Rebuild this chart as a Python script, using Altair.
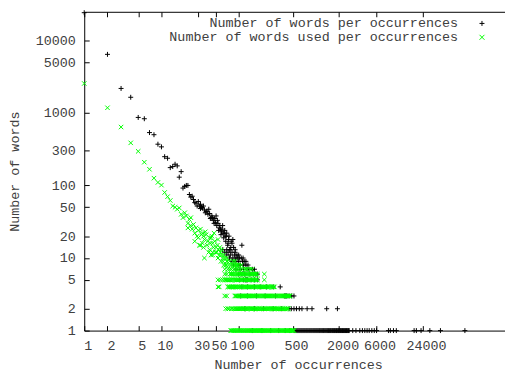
import altair as alt
import pandas as pd

S_BLACK = "Number of words per occurrences"
S_GREEN = "Number of words used per occurrences"

# ---- black "+" series: scattered part (occurrences, words)
black_x = [1, 2, 3, 4, 5, 6, 7, 8, 9, 10, 11, 12, 13, 14, 15, 16, 17, 18, 19, 20,
           21, 22, 23, 24, 25, 26, 27, 28, 29, 31, 32, 33, 34, 36, 38, 39, 40, 42, 44, 45,
           46, 47, 49, 50, 52, 53, 55, 56, 58, 59, 61, 63, 65, 67, 69, 72, 74, 77, 80, 84,
           110, 30, 32, 35, 37, 41, 43, 48, 51, 54, 57, 60, 62, 64, 66, 68, 70, 73, 75, 79,
           82, 86]
black_y = [24000, 6400, 2170, 1640, 865, 830, 535, 500, 370, 340, 249, 237, 176, 182, 196, 186, 130, 155, 92, 97,
           100, 100, 75, 69, 71, 64, 58, 57, 52, 52, 48, 50, 49, 46, 44, 44, 40, 41, 36, 38,
           36, 33, 35, 31, 28, 33, 24, 26, 25, 21, 25, 22, 22, 20, 20, 15, 18, 13, 17, 18,
           15, 60, 55, 52, 42, 47, 35, 30, 38, 30, 28, 23, 28, 19, 24, 17, 22, 16, 20, 14,
           16, 14]

# ---- black series: integer rows (words count -> list of occurrence values)
black_levels = [13, 12, 11, 10, 9, 8, 7, 6, 5, 4, 3, 2, 1]
black_level_x = [
    [62, 70, 77, 90],
    [66, 73, 82, 90],
    [70, 78, 88, 95, 100],
    [76, 84, 92, 96, 102, 108, 114],
    [82, 90, 100, 112, 118, 124],
    [86, 98, 105, 116, 124, 132],
    [92, 104, 115, 128, 136, 150, 160],
    [100, 110, 120, 140, 155, 167, 175],
    [103, 115, 123, 126, 130, 145, 160, 175],
    [110, 130, 160, 190, 230, 280, 345],
    [106, 130, 170, 220, 300, 390, 400, 410, 420, 450, 485, 520],
    [120, 160, 210, 280, 360, 450, 480, 520, 560, 610, 660, 770, 890, 1380, 1900],
    [150, 200, 260, 330, 400, 460, 520, 536, 552, 568, 585, 603, 621, 640, 659, 679,
     699, 720, 742, 764, 787, 811, 835, 860, 886, 913, 940, 968, 997, 1027, 1058, 1090,
     1120, 1155, 1190, 1225, 1260, 1300, 1340, 1380, 1420, 1460, 1505, 1550, 1600, 1645,
     1695, 1745, 1800, 1850, 1910, 1965, 2025, 2085, 2150, 2210, 2280, 2350, 2420, 2490,
     2560, 2640, 2700, 3000, 3300, 3700, 4000, 4300, 4600, 4900, 5300, 5700, 6100, 8700,
     9200, 10100, 11000, 18700, 20000, 23000, 29900, 41000, 85000],
]

# ---- green "x" series: scattered part
green_x = [1, 2, 3, 4, 5, 6, 7, 8, 9, 10, 11, 12, 13, 14, 15, 16, 17, 18, 19, 20,
           21, 22, 23, 24, 25, 27, 28, 30, 31, 32, 33, 34, 35, 36, 38, 40, 42, 44, 46, 48,
           51, 54, 22, 24, 26, 27, 29, 30, 32, 34, 35, 37, 39, 43, 45, 47, 49, 53, 57]
green_y = [2540, 1175, 638, 386, 295, 209, 167, 126, 110, 101, 80, 70, 62, 52, 50, 47, 49, 40, 36, 42,
           38, 26, 34, 36, 25, 17, 26, 24, 15, 15, 21, 22, 20, 18, 21, 17, 19, 19, 16, 22,
           14, 18, 30, 28, 29, 22, 20, 19, 25, 16, 14, 23, 15, 16, 20, 14, 17, 15, 14]

green_levels = [13, 12, 11, 10, 9, 8, 7, 6, 5, 4, 3, 2, 1]
green_level_x = [
    [42, 55, 60],
    [41, 46, 50, 52, 58],
    [44, 46, 56, 60, 64],
    [36, 54, 62, 66, 70],
    [59, 63, 70, 71, 76, 84, 90],
    [64, 68, 69, 74, 79, 85, 90, 95, 100, 108],
    [66, 72, 76, 80, 86, 90, 95, 100, 105, 112, 120, 125, 130, 140, 150],
    [66, 70, 77, 80, 82, 85, 88, 91, 94, 97, 100, 104, 107, 111, 114, 118, 122, 126,
     130, 134, 139, 143, 148, 153, 158, 163, 168, 175, 215],
    [54, 58, 62, 66, 68, 70, 72, 75, 77, 80, 83, 86, 89, 92, 95, 98, 101, 105, 108, 112,
     116, 120, 124, 128, 132, 137, 141, 146, 151, 156, 161, 166, 171, 175, 215],
    [54, 56, 72, 74, 76, 78, 80, 83, 85, 88, 90, 93, 96, 99, 102, 105, 109, 112, 116, 120,
     124, 128, 132, 136, 141, 145, 150, 155, 160, 165, 171, 176, 182, 188, 194, 200, 207,
     213, 220, 227, 235, 242, 250, 258, 267, 276, 285, 290],
    [66, 70, 89, 92, 94, 97, 100, 103, 106, 110, 113, 117, 120, 124, 128, 132, 136, 141,
     145, 150, 154, 159, 164, 170, 175, 181, 186, 192, 198, 205, 211, 218, 225, 232, 240,
     247, 255, 264, 272, 281, 290, 299, 309, 319, 329, 340, 350, 362, 373, 385, 397, 410,
     423, 436, 450, 465],
    [68, 72, 75, 80, 84, 88, 91, 94, 96, 99, 102, 105, 108, 112, 115, 119, 122, 126, 130,
     134, 138, 143, 147, 152, 156, 161, 166, 172, 177, 183, 188, 194, 200, 207, 213, 220,
     227, 234, 242, 250, 258, 266, 275, 283, 292, 302, 311, 321, 331, 342, 352, 364, 375,
     387, 399, 412, 425, 440],
    [79, 81, 84, 86, 89, 92, 95, 98, 101, 104, 107, 110, 114, 117, 121, 125, 129, 133,
     137, 141, 146, 150, 155, 160, 165, 170, 175, 181, 186, 192, 198, 204, 211, 217, 224,
     231, 238, 245, 253, 261, 269, 277, 286, 295, 304, 313, 323, 333, 344, 355, 366, 377,
     389, 401, 414, 427, 440, 454, 468, 482, 497, 512, 520],
]

x_ticks = [1, 2, 5, 10, 30, 50, 100, 500, 2000, 6000, 24000]
y_ticks = [1, 2, 5, 10, 20, 50, 100, 300, 1000, 5000, 10000]


def build(xs, ys, levels, level_x, series):
    assert len(xs) == len(ys)
    recs = [{"occ": a, "words": b, "series": series} for a, b in zip(xs, ys)]
    for lev, xl in zip(levels, level_x):
        recs += [{"occ": a, "words": lev, "series": series} for a in xl]
    return pd.DataFrame(recs)


df_black = build(black_x, black_y, black_levels, black_level_x, S_BLACK)
df_green = build(green_x, green_y, green_levels, green_level_x, S_GREEN)

W, H = 425, 322
FONT = "Liberation Mono"
TXT = "#404040"
FS = 13.5

xscale = alt.Scale(type="log", domain=[1, 281000], nice=False)
yscale = alt.Scale(type="log", domain=[1, 24700], nice=False)

PLUS = "M-1,0L1,0M0,-1L0,1"
CROSS = "M-1,-1L1,1M-1,1L1,-1"
color_scale = alt.Scale(domain=[S_BLACK, S_GREEN], range=["#000000", "#00ff00"])
shape_scale = alt.Scale(domain=[S_BLACK, S_GREEN], range=[PLUS, CROSS])

legend = alt.Legend(title=None, orient="none", legendX=395, legendY=5,
                    labelAlign="right", labelOffset={"expr": "-31"}, labelLimit=0,
                    labelFont=FONT, labelFontSize=FS, labelColor=TXT,
                    symbolStrokeWidth=1, symbolSize=25, rowPadding={"expr": "-2"}, padding=0)

black = alt.Chart(df_black).mark_point(filled=False, strokeWidth=1, size=25, opacity=1).encode(
    x=alt.X("occ:Q", scale=xscale,
            axis=alt.Axis(orient="bottom", values=x_ticks, format="d", title="Number of occurrences",
                          ticks=False, tickSize=0, labelFlush=False, labelOverlap=False,
                          labelPadding=8, titlePadding=6, titleX=216, labelOffset=3.5, domain=True)),
    y=alt.Y("words:Q", scale=yscale,
            axis=alt.Axis(orient="left", values=y_ticks, format="d", title="Number of words",
                          ticks=False, tickSize=0, labelFlush=False, labelOverlap=False,
                          labelPadding=9, titlePadding=14, domain=True)),
    color=alt.Color("series:N", scale=color_scale, legend=legend),
    shape=alt.Shape("series:N", scale=shape_scale, legend=legend),
)

green = alt.Chart(df_green).mark_point(filled=False, strokeWidth=1, size=20, opacity=1).encode(
    x=alt.X("occ:Q", scale=xscale,
            axis=alt.Axis(orient="top", offset=-H, values=x_ticks, labels=False, title=None,
                          tickSize=5, domain=False)),
    y=alt.Y("words:Q", scale=yscale,
            axis=alt.Axis(orient="right", offset=-W, values=y_ticks, labels=False, title=None,
                          tickSize=5, domain=False)),
    color=alt.Color("series:N", scale=color_scale, legend=legend),
    shape=alt.Shape("series:N", scale=shape_scale, legend=legend),
)

frame = alt.Chart(df_black).mark_point(opacity=0, size=1).encode(
    x=alt.X("occ:Q", scale=xscale,
            axis=alt.Axis(orient="bottom", offset=-H, values=x_ticks, labels=False, title=None,
                          tickSize=5, domain=True)),
    y=alt.Y("words:Q", scale=yscale, axis=None),
)

chart = alt.layer(black, green, frame).resolve_axis(x="independent", y="independent").properties(
    width=W, height=H,
    autosize=alt.AutoSizeParams(type="none"),
    padding={"left": 77, "top": 2, "right": 0, "bottom": 40},
).configure_axis(
    labelFont=FONT, labelFontSize=FS, labelColor=TXT,
    titleFont=FONT, titleFontSize=FS, titleFontWeight="normal", titleColor=TXT,
    domainColor="#000000", domainWidth=1, tickColor="#000000", tickWidth=1, grid=False,
).configure_view(stroke=None)

chart.save("out.html", embed_options={"renderer": "svg", "actions": False})
